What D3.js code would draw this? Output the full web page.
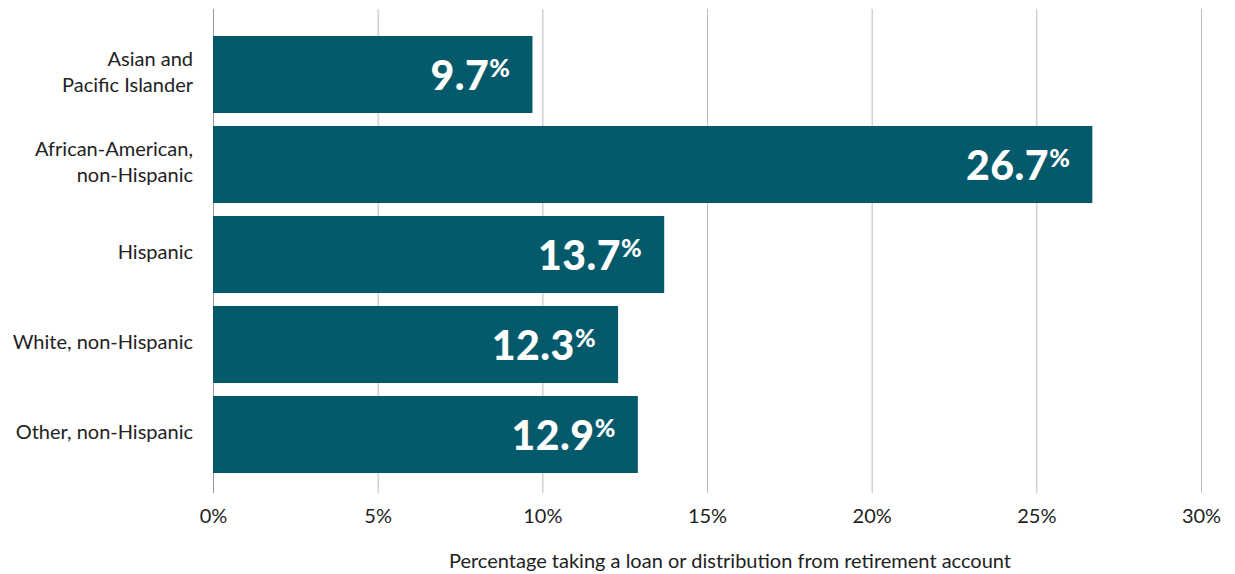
<!DOCTYPE html>
<html><head><meta charset="utf-8">
<script src="https://cdn.jsdelivr.net/npm/d3@7"></script>
<style>body{margin:0;background:#fff;} svg{display:block;}</style>
</head><body>
<script>
const categories = [["Asian and","Pacific Islander"],["African-American,","non-Hispanic"],["Hispanic"],["White, non-Hispanic"],["Other, non-Hispanic"]];
const values = [9.7, 26.7, 13.7, 12.3, 12.9];
const tickValues = [0,5,10,15,20,25,30];
const axisTitle = "Percentage taking a loan or distribution from retirement account";

const W=1235,H=574;
const svg=d3.select("body").append("svg").attr("width",W).attr("height",H);
const x=d3.scaleLinear().domain([0,30]).range([213,1201]);
const y=d3.scaleBand().domain(d3.range(values.length)).range([29.5,479.5]).paddingInner(0.144).paddingOuter(0.072);
const font="Lato, 'Open Sans', sans-serif";

// gridlines
svg.append("g").selectAll("line").data(tickValues).join("line")
  .attr("x1",d=>x(d)+0.5).attr("x2",d=>x(d)+0.5).attr("y1",9).attr("y2",493)
  .attr("stroke",d=>d===0?"#999":"#bdbdbd").attr("stroke-width",1);

// bars
svg.append("g").selectAll("rect").data(values).join("rect")
  .attr("x",x(0)).attr("y",(d,i)=>y(i)).attr("width",d=>x(d)-x(0)).attr("height",y.bandwidth())
  .attr("fill","#045a6b");

// value labels
const vl=svg.append("g").selectAll("text").data(values).join("text")
  .attr("x",d=>x(d)-22).attr("y",(d,i)=>y(i)+y.bandwidth()/2+15)
  .attr("text-anchor","end").attr("fill","#fff").attr("font-family",font).attr("font-weight",900)
  .attr("font-size",41).attr("letter-spacing",0.5);
vl.append("tspan").text(d=>d.toFixed(1));
vl.append("tspan").text("%").attr("font-size",25).attr("dy",-13);

// category labels
const cl=svg.append("g").selectAll("text").data(categories).join("text")
  .attr("text-anchor","end").attr("fill","#222").attr("font-family",font).attr("font-size",20)
  .attr("y",(d,i)=>y(i)+y.bandwidth()/2+4 - (d.length-1)*13);
cl.selectAll("tspan").data(d=>d).join("tspan").attr("x",193).attr("dy",(d,j)=>j===0?0:26).text(d=>d);

// axis
const ax=d3.axisBottom(x).tickValues(tickValues).tickFormat(d=>d+"%").tickSize(0).tickPadding(0);
const g=svg.append("g").attr("transform","translate(0,509)").call(ax);
g.select(".domain").remove();
g.selectAll("text").attr("font-family",font).attr("font-size",20).attr("fill","#222").attr("dy","0.71em");

svg.append("text").attr("x",730).attr("y",568).attr("text-anchor","middle").attr("fill","#222")
  .attr("font-family",font).attr("font-size",20).text(axisTitle);
</script>
</body></html>
